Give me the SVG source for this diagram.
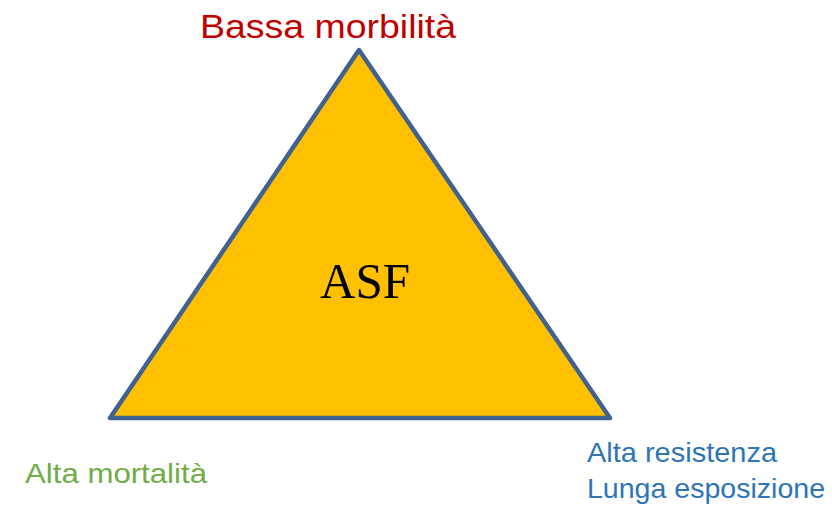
<svg xmlns="http://www.w3.org/2000/svg" width="832" height="505" viewBox="0 0 832 505">
<style>
.lbl{font-family:"Liberation Sans","Open Sans",Arial,sans-serif;}
.red{fill:#C00000;font-size:34px;}
.green{fill:#70AD47;font-size:28px;}
.blue{fill:#2E75B6;font-size:28px;}
.tri{fill:#FFC000;stroke:#41628F;stroke-width:4.5;stroke-linejoin:round;}
.center{font-family:"Liberation Serif","Times New Roman",serif;font-size:50px;fill:#000;}
</style>
<rect width="832" height="505" fill="#FFFFFF"/>
<g id="triangle">
<polygon class="tri" points="359,50 110,418 610,418"/>
<text class="center" x="320" y="298" textLength="90" lengthAdjust="spacingAndGlyphs">ASF</text>
</g>
<g id="top-label">
<text class="lbl red" x="200" y="38" textLength="256" lengthAdjust="spacingAndGlyphs">Bassa morbilità</text>
</g>
<g id="left-label">
<text class="lbl green" x="25" y="483" textLength="182" lengthAdjust="spacingAndGlyphs">Alta mortalità</text>
</g>
<g id="right-label">
<text class="lbl blue" x="587" y="462" textLength="190" lengthAdjust="spacingAndGlyphs">Alta resistenza</text>
<text class="lbl blue" x="587" y="498" textLength="238" lengthAdjust="spacingAndGlyphs">Lunga esposizione</text>
</g>
<g id="connectors"></g>
</svg>
